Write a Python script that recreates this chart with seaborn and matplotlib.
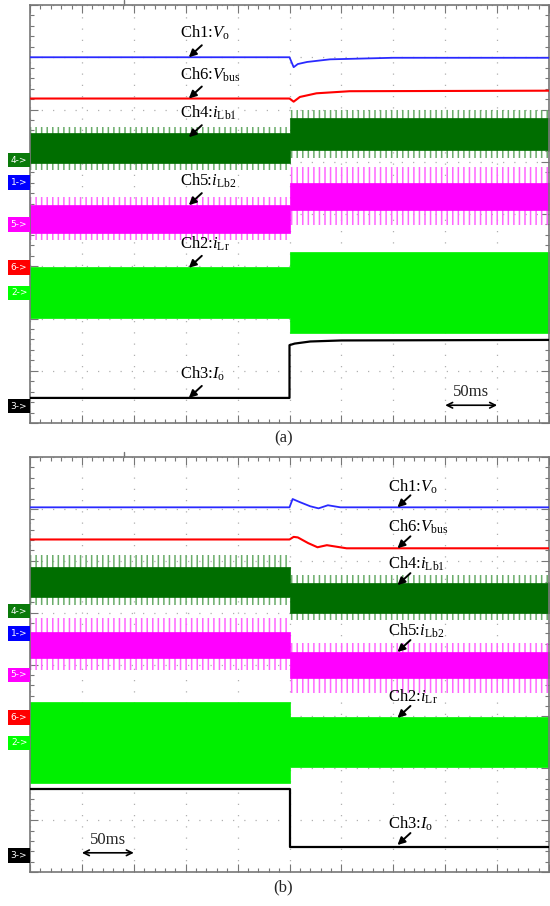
import numpy as np
import pandas as pd
import matplotlib
matplotlib.use("Agg")
import matplotlib.pyplot as plt
import seaborn as sns
from matplotlib.transforms import blended_transform_factory

sns.set_theme(style="white")
plt.rcParams["font.family"] = ["Liberation Serif", "DejaVu Serif"]
plt.rcParams["mathtext.fontset"] = "custom"
plt.rcParams["mathtext.rm"] = "Liberation Serif"
plt.rcParams["mathtext.it"] = "Liberation Serif:italic"
plt.rcParams["hatch.linewidth"] = 1.1

# ---------------- data (time in ms, amplitude in scope divisions) ----------------
band_t = [0, 250, 500]          # band envelopes: before / after load step

# panel (a)
a_vo_t = [0, 250, 254, 258, 267, 289, 350, 500]
a_vo_v = [7.00, 7.00, 6.81, 6.87, 6.91, 6.96, 6.99, 6.99]
a_vbus_t = [0, 250, 254, 260, 276, 308, 500]
a_vbus_v = [6.21, 6.21, 6.15, 6.24, 6.31, 6.35, 6.36]
a_io_t = [0, 250, 250, 255, 270, 300, 500]
a_io_v = [0.48, 0.48, 1.49, 1.52, 1.56, 1.58, 1.59]
a_ilb1_core = ([5.55, 5.84], [4.98, 5.22])
a_ilb1_edge = ([5.67, 5.99], [4.84, 5.07])
a_ilb2_core = ([4.17, 4.59], [3.64, 4.08])
a_ilb2_edge = ([4.33, 4.90], [3.50, 3.79])
a_ilr_core = ([2.99, 3.27], [2.01, 1.72])

# panel (b)
b_vo_t = [0, 250, 253, 260, 270, 278, 287, 299, 500]
b_vo_v = [7.03, 7.03, 7.19, 7.13, 7.05, 7.01, 7.07, 7.03, 7.03]
b_vbus_t = [0, 250, 254, 258, 268, 277, 286, 305, 500]
b_vbus_v = [6.41, 6.41, 6.46, 6.45, 6.34, 6.26, 6.30, 6.24, 6.24]
b_io_t = [0, 250, 250, 500]
b_io_v = [1.60, 1.60, 0.49, 0.49]
b_ilb1_core = ([5.88, 5.57], [5.30, 4.99])
b_ilb1_edge = ([6.11, 5.72], [5.14, 4.86])
b_ilb2_core = ([4.62, 4.24], [4.12, 3.74])
b_ilb2_edge = ([4.89, 4.41], [3.89, 3.45])
b_ilr_core = ([3.28, 2.99], [1.71, 2.02])

# channel ground markers
marker_labels = ["4->", "1->", "5->", "6->", "2->", "3->"]
marker_levels = [5.03, 4.60, 3.80, 2.98, 2.49, 0.32]

# trace labels
label_texts = [r"Ch1:$\mathit{V}_{\mathrm{o}}$", r"Ch6:$\mathit{V}_{\mathrm{bus}}$",
               r"Ch4:$\mathit{i}_{\mathrm{Lb1}}$", r"Ch5:$\mathit{i}_{\mathrm{Lb2}}$",
               r"Ch2:$\mathit{i}_{\mathrm{Lr}}$", r"Ch3:$\mathit{I}_{\mathrm{o}}$"]
a_label_t = 153
a_label_y = [7.00, 6.21, 5.47, 4.17, 2.97, 0.48]
b_label_t = 354
b_label_y = [7.03, 6.24, 5.53, 4.24, 2.97, 0.52]

C_BLUE, C_RED, C_DG, C_MAG, C_GRN = "#2a2aff", "#ff0000", "#006e00", "#ff00ff", "#00f000"
marker_colors = ["#0a7a0a", "#0000ff", "#ff00ff", "#ff0000", "#00ff00", "#000000"]

fig = plt.figure(figsize=(5.5, 9.06), dpi=100)
W, H = 550, 906
ax_a = fig.add_axes([30 / W, (H - 423) / H, 519 / W, 418 / H])
ax_b = fig.add_axes([30 / W, (H - 872) / H, 519 / W, 415 / H])


def expand(v):
    return [v[0], v[1], v[1]]


def band(ax, core, edge, color, light):
    if edge is not None:
        ax.fill_between(band_t, expand(edge[0]), expand(edge[1]), step="post",
                        facecolor="none", edgecolor=light, hatch="|||", linewidth=0, zorder=1)
    ax.fill_between(band_t, expand(core[0]), expand(core[1]), step="post",
                    facecolor=color, edgecolor=color, linewidth=0.5, zorder=2)


def trace(ax, t, v, color, lw):
    df = pd.DataFrame({"t": t, "v": v})
    sns.lineplot(data=df, x="t", y="v", ax=ax, color=color, lw=lw,
                 estimator=None, sort=False, legend=False, zorder=3)


def style(ax):
    ax.set_xlim(0, 500)
    ax.set_ylim(0, 8)
    ax.set_xticks(np.arange(0, 501, 50))
    ax.set_xticks(np.arange(0, 501, 10), minor=True)
    ax.set_yticks(np.arange(0, 8.01, 1))
    ax.set_yticks(np.arange(0, 8.01, 0.2), minor=True)
    ax.tick_params(which="both", direction="in", top=True, right=True, bottom=True, left=True,
                   labelbottom=False, labelleft=False, color="#777777", width=0.8)
    ax.tick_params(which="major", length=6)
    ax.tick_params(which="minor", length=3)
    ax.set_xlabel("")
    ax.set_ylabel("")
    ax.grid(True, which="major", color="#b0b0b0", lw=0.9, linestyle=(0, (1, 8)))
    for s in ax.spines.values():
        s.set_color("#777777")
        s.set_linewidth(1.2)
    tr = blended_transform_factory(ax.transAxes, ax.transData)
    for lab, lev, col in zip(marker_labels, marker_levels, marker_colors):
        ax.text(-0.005, lev, lab, transform=tr, ha="right", va="center", fontsize=6.5,
                color="white", family="DejaVu Sans", clip_on=False,
                bbox=dict(boxstyle="square,pad=0.3", fc=col, ec="none"))
    trm = blended_transform_factory(ax.transData, ax.transAxes)
    ax.plot([91, 91], [1.0, 1.012], transform=trm, color="#777777", lw=1, clip_on=False)


def labels(ax, t, ys, dy):
    for txt, y in zip(label_texts, ys):
        ax.annotate("", xy=(t, y), xytext=(13, 12), textcoords="offset pixels",
                    arrowprops=dict(arrowstyle="-|>", color="black", lw=1.4,
                                    mutation_scale=11, shrinkA=0, shrinkB=0), zorder=5)
        ax.annotate(txt, xy=(t, y), xytext=(-9, dy), textcoords="offset pixels",
                    ha="left", va="center", fontsize=12, color="black", zorder=5)


def scalebar(ax, t0, t1, y_arrow, y_text):
    ax.annotate("", xy=(t0, y_arrow), xytext=(t1, y_arrow),
                arrowprops=dict(arrowstyle="<->", color="black", lw=1.2,
                                mutation_scale=10, shrinkA=0, shrinkB=0))
    ax.text((t0 + t1) / 2, y_text, "50ms", ha="center", va="center", fontsize=12)


# panel (a)
band(ax_a, a_ilb1_core, a_ilb1_edge, C_DG, "#6aac6a")
band(ax_a, a_ilb2_core, a_ilb2_edge, C_MAG, "#ff66ff")
band(ax_a, a_ilr_core, None, C_GRN, C_GRN)
trace(ax_a, a_vo_t, a_vo_v, C_BLUE, 1.3)
trace(ax_a, a_vbus_t, a_vbus_v, C_RED, 1.5)
trace(ax_a, a_io_t, a_io_v, "black", 1.6)
style(ax_a)
labels(ax_a, a_label_t, a_label_y, 24)
scalebar(ax_a, 400, 450, 0.34, 0.59)

# panel (b)
band(ax_b, b_ilb1_core, b_ilb1_edge, C_DG, "#6aac6a")
band(ax_b, b_ilb2_core, b_ilb2_edge, C_MAG, "#ff66ff")
band(ax_b, b_ilr_core, None, C_GRN, C_GRN)
trace(ax_b, b_vo_t, b_vo_v, C_BLUE, 1.3)
trace(ax_b, b_vbus_t, b_vbus_v, C_RED, 1.5)
trace(ax_b, b_io_t, b_io_v, "black", 1.6)
style(ax_b)
labels(ax_b, b_label_t, b_label_y, 21)
scalebar(ax_b, 50, 100, 0.37, 0.62)

fig.text(284 / W, 1 - 438 / H, "(a)", ha="center", va="center", fontsize=12)
fig.text(283 / W, 1 - 887 / H, "(b)", ha="center", va="center", fontsize=12)

fig.savefig("out.png", dpi=100)
